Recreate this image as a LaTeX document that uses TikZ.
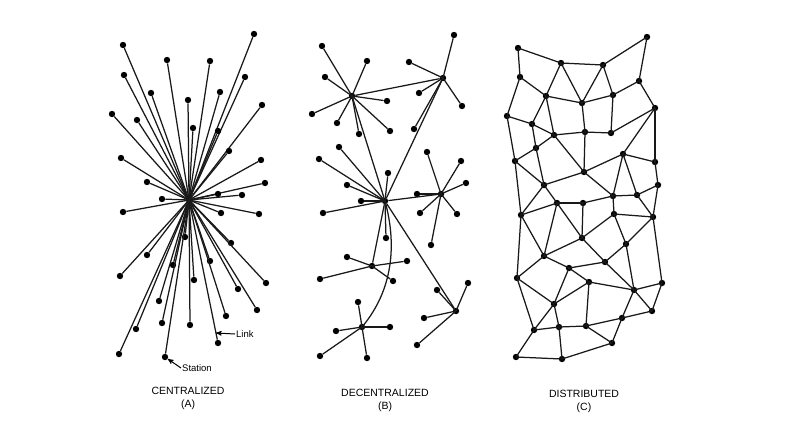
\documentclass[tikz,border=0pt]{standalone}
\usepackage{fontspec}
\setmainfont{Liberation Sans}
\usetikzlibrary{positioning, calc, arrows}

\begin{document}
\begin{tikzpicture}[x=1pt,y=-1pt,
    station/.style={circle, fill=black, inner sep=0pt, minimum size=6.4pt},
    link/.style={draw=black!90, line width=1.25pt},
    caption/.style={font=\fontsize{10.5}{13}\selectfont, align=center},
    tag/.style={font=\fontsize{9.5}{11}\selectfont, inner sep=1pt}]
  \useasboundingbox[fill=white] (0,0) rectangle (800,445);

  % (A) centralized
  \node[station] (ctr) at (189,200) {};
  \foreach \x/\y [count=\i] in {123/45, 254/34, 167/60, 210/61, 124/75, 245/77,
      151/93, 220/92, 188/100, 262/105, 112/114, 137/120, 193/128, 218/131,
      229/151, 121/158, 261/160, 147/182, 265/183, 218/194, 242/195, 162/199,
      123/212, 221/213, 259/214, 185/237, 231/243, 147/255, 210/261, 173/265,
      120/276, 266/283, 194/280, 238/289, 159/301, 257/310, 226/316, 162/323,
      190/325, 136/329, 218/343, 119/354, 165/357} {
    \node[station] (c\i) at (\x,\y) {};
    \path[link] (ctr.center) -- (c\i);
  }
  \node[tag, anchor=west] (linklbl) at (235,334) {Link};
  \coordinate (linkpt) at ($(ctr.center)!0.93!(c41)$);
  \draw[-stealth', line width=1pt] (linklbl.west) -- (linkpt);
  \node[tag, anchor=west] (stationlbl) at (181,368) {Station};
  \draw[-stealth', line width=1pt] (stationlbl.west) -- (c43);
  \node[caption] (lblA) at (188,398) {CENTRALIZED\\(A)};

  % (B) decentralized
  \foreach \name/\x/\y in {h1/352/96, h2/443/78, h3/385/201, h4/441/194,
      h5/372/266, h6/362/327, h7/456/311}
    \node[station] (\name) at (\x,\y) {};
  \foreach \hub/\x/\y [count=\i] in {h1/322/46, h1/367/61, h1/325/77, h1/387/101,
      h1/312/114, h1/337/123, h1/359/134, h1/390/131,
      h2/454/35, h2/409/62, h2/419/93, h2/462/106, h2/414/129,
      h3/339/147, h3/319/159, h3/388/173, h3/347/185, h3/361/201, h3/323/213, h3/386/238,
      h4/427/152, h4/461/161, h4/466/183, h4/417/194, h4/420/213, h4/457/214, h4/431/245,
      h5/347/257, h5/407/261, h5/320/279, h5/393/281,
      h6/358/302, h6/336/331, h6/390/327, h6/320/356, h6/367/358,
      h7/437/290, h7/468/283, h7/424/318, h7/417/345} {
    \node[station] (b\i) at (\x,\y) {};
    \path[link] (\hub.center) -- (b\i);
  }
  \path[link] (h1) -- (h2) (h1) -- (h3) (h2) -- (h3) (h3) -- (h4)
    (h3) -- (h5) (h3) -- (h7);
  \path[link] (h3.center) .. controls (397,245) and (393,290) .. (h6.center);
  \node[caption] (lblB) at (385,400) {DECENTRALIZED\\(B)};

  % (C) distributed
  \foreach \x/\y [count=\i] in {518/48, 647/37, 561/63, 603/65, 520/77, 639/81,
      546/96, 582/103, 613/95, 655/108, 507/116, 532/124, 554/135, 585/132,
      611/133, 536/148, 623/154, 515/161, 584/172, 655/162, 658/185, 544/185,
      613/196, 637/195, 557/203, 583/203, 521/215, 614/214, 653/217, 582/238,
      626/244, 544/256, 605/262, 569/268, 517/278, 589/282, 662/283, 634/290,
      554/304, 652/311, 622/318, 534/330, 559/327, 586/326, 612/343, 516/357,
      562/359}
    \node[station] (d\i) at (\x,\y) {};
  \foreach \a/\b in {1/3, 3/4, 4/2, 2/6, 1/5, 5/7, 5/11, 3/7, 3/8, 4/8, 4/9,
      6/9, 6/10, 7/8, 8/9, 7/12, 7/13, 11/12, 11/18, 12/13, 12/16, 13/14,
      14/15, 8/14, 9/15, 15/10, 10/17, 10/20, 17/20, 20/21, 16/18, 13/16,
      16/22, 13/19, 14/19, 19/17, 19/22, 18/22, 17/23, 17/24, 21/24, 23/24,
      19/23, 18/27, 22/25, 22/27, 25/26, 25/27, 23/26, 26/30, 25/30, 23/28,
      24/29, 21/29, 28/29, 28/30, 28/31, 29/31, 29/37, 27/35, 27/32, 25/32,
      30/32, 30/33, 31/33, 31/38, 32/34, 34/33, 33/38, 34/36, 36/38, 38/37,
      38/40, 37/40, 38/41, 35/32, 35/39, 34/39, 36/39, 36/44, 39/42, 39/43,
      35/42, 42/43, 43/44, 44/41, 41/40, 41/45, 44/45, 42/46, 43/47, 46/47,
      47/45}
    \path[link] (d\a.center) -- (d\b.center);
  \node[caption] (lblC) at (584,401) {DISTRIBUTED\\(C)};
\end{tikzpicture}
\end{document}
